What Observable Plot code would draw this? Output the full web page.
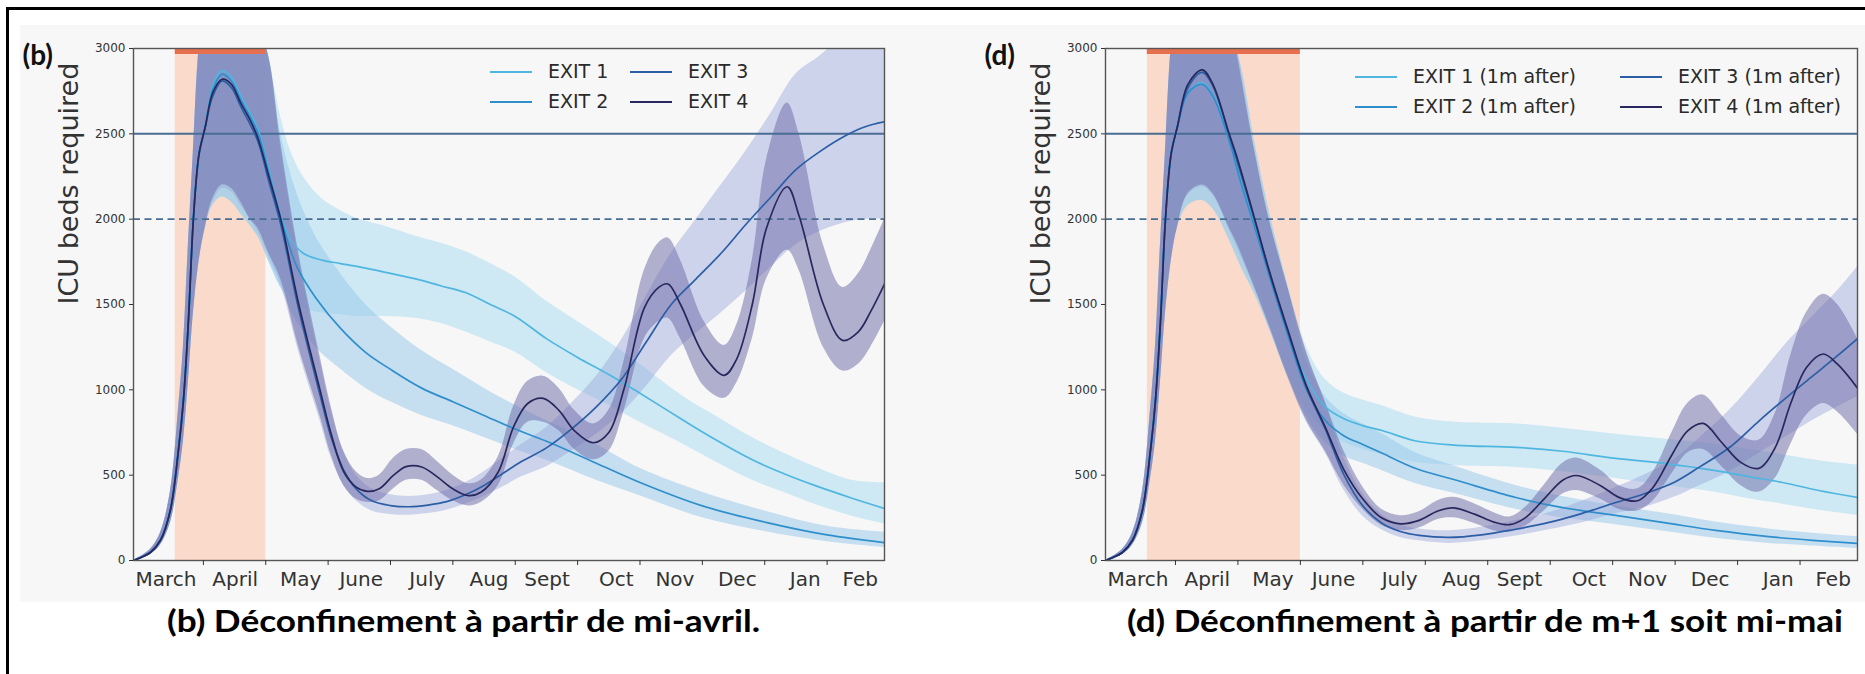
<!DOCTYPE html>
<html><head><meta charset="utf-8">
<script src="https://cdn.jsdelivr.net/npm/d3@7"></script>
<script src="https://cdn.jsdelivr.net/npm/@observablehq/plot@0.6"></script>
<style>
body{margin:0;background:#fff;width:1865px;height:674px;overflow:hidden;font-family:"DejaVu Sans",sans-serif;}
#page{position:relative;width:1865px;height:674px;overflow:hidden;}
.border{position:absolute;left:6px;top:7px;width:1900px;height:700px;border-top:3px solid #000;border-left:3px solid #000;}
.bg{position:absolute;left:20px;top:25px;width:1845px;height:577px;background:#f7f7f7;}
.panel{position:absolute;top:25px;}
.caption{position:absolute;font-family:Lato,"Open Sans",sans-serif;font-weight:bold;font-size:31px;line-height:31px;color:#000;white-space:nowrap;transform-origin:0 0;}
.lg{position:absolute;font-size:19px;line-height:19px;color:#2a2a2a;white-space:nowrap;}
.sw{position:absolute;height:2px;}
</style>
</head><body>
<div id="page">
  <div class="bg"></div>
  <div class="border"></div>
</div>
<script>
// ---------- data (x in months since 1 March, y in ICU beds) ----------
const months = ["March","April","May","June","July","Aug","Sept","Oct","Nov","Dec","Jan","Feb"];
const monthLabelAt = [0.40,1.51,2.56,3.53,4.59,5.58,6.51,7.62,8.56,9.56,10.65,11.53];
const monthStarts = [1,2,3,4,5,6,7,8,9,10,11];
const yTicks = [0,500,1000,1500,2000,2500,3000];
const xDomain = [-0.12, 11.92];
const capacity = 2500;
const surge = 2000;
const exits = ["EXIT 1","EXIT 2","EXIT 3","EXIT 4"];
const lockB = [{start:0.55, end:2.0}];
const lockD = [{start:0.55, end:3.0}];
const captionB = "(b) Déconfinement à partir de mi-avril.";
const captionD = "(d) Déconfinement à partir de m+1 soit mi-mai";

// rows: [month, mean, lower, upper]
const rise = [
  [-0.12,0,0,0],[0,18,12,25],[0.15,47,35,65],[0.31,117,90,160],[0.47,293,220,400],
  [0.6,645,480,880],[0.68,937,700,1250],[0.76,1400,1050,1850],[0.84,2000,1450,2400],
  [0.93,2380,1750,3000],[1.03,2540,1950,3300]
];

const b1 = [
  [1.15,2780,2080,3350],[1.3,2870,2130,3400],[1.45,2830,2100,3400],[1.6,2720,2030,3350],
  [1.87,2530,1900,3200],[2.05,2290,1750,2950],[2.24,2020,1600,2600],[2.4,1880,1550,2400],
  [2.6,1800,1480,2250],[2.9,1760,1450,2120],[3.2,1740,1440,2050],[3.5,1720,1430,2000],
  [3.9,1690,1430,1960],[4.4,1650,1420,1900],[4.8,1610,1390,1860],[5.2,1570,1340,1810],
  [5.6,1500,1280,1740],[6.0,1430,1220,1660],[6.5,1300,1100,1520],[7.0,1190,1000,1400],
  [7.5,1090,910,1280],[8.0,980,810,1150],[8.7,820,680,960],[9.2,710,580,850],
  [9.8,590,470,720],[10.3,510,400,630],[10.8,440,330,550],[11.4,365,260,470],[11.92,305,215,455]
];
const b2 = [
  [1.15,2760,2080,3350],[1.3,2850,2130,3400],[1.45,2810,2100,3400],[1.6,2700,2030,3350],
  [1.87,2510,1900,3150],[2.05,2270,1750,2950],[2.24,2010,1600,2500],[2.5,1720,1400,2150],
  [2.8,1540,1250,1900],[3.2,1360,1120,1680],[3.6,1220,1010,1500],[4.0,1120,930,1370],
  [4.5,1010,850,1230],[5.0,930,790,1120],[5.5,850,720,1010],[6.0,770,650,910],
  [6.56,690,580,810],[7.3,570,470,680],[8.0,457,380,540],[9.0,320,250,400],
  [10.0,225,170,290],[11.0,150,110,200],[11.92,105,76,165]
];
const b3 = [
  [1.15,2720,2100,3400],[1.3,2810,2180,3450],[1.45,2770,2160,3450],[1.6,2660,2080,3400],
  [1.87,2460,1930,3150],[2.05,2220,1780,2950],[2.24,1970,1620,2420],[2.53,1470,1220,1770],
  [2.87,970,820,1170],[3.05,720,600,880],[3.25,530,440,640],[3.45,420,350,500],
  [3.7,350,290,420],[4.0,322,270,385],[4.3,315,265,375],[4.6,325,275,385],[4.9,345,295,410],
  [5.2,385,330,455],[5.5,440,375,520],[5.8,510,430,600],[6.1,580,490,680],[6.5,660,550,780],
  [6.9,770,640,920],[7.3,900,740,1080],[7.7,1060,860,1290],[8.1,1280,1020,1550],
  [8.5,1500,1200,1800],[8.9,1650,1330,2000],[9.3,1800,1450,2200],[9.7,1970,1580,2400],
  [10.1,2130,1720,2620],[10.5,2290,1850,2850],[10.9,2400,1930,2960],[11.3,2490,1980,3100],
  [11.6,2540,2000,3250],[11.92,2570,2000,3350]
];
const b4 = [
  [1.15,2740,2120,3400],[1.3,2820,2200,3450],[1.45,2790,2180,3450],[1.6,2680,2100,3400],
  [1.75,2580,2000,3300],[1.87,2480,1950,3150],[2.05,2250,1800,2950],[2.24,2000,1650,2450],
  [2.53,1500,1250,1800],[2.87,1000,850,1200],[3.05,740,620,900],[3.25,520,440,640],
  [3.45,430,360,520],[3.63,405,340,480],[3.82,420,350,500],[4.05,500,420,600],
  [4.25,550,470,650],[4.5,548,470,650],[4.75,490,410,580],[5.0,420,350,500],
  [5.25,380,320,450],[5.45,400,340,470],[5.73,520,440,610],[5.97,780,680,900],
  [6.2,920,810,1050],[6.45,950,810,1080],[6.7,880,760,1010],[6.95,760,650,880],
  [7.25,690,590,800],[7.5,750,640,880],[7.74,1000,870,1160],[8.07,1480,1300,1700],
  [8.3,1600,1400,1860],[8.45,1620,1420,1890],[8.65,1500,1300,1760],[9.03,1200,1020,1400],
  [9.35,1085,950,1260],[9.55,1180,1040,1380],[9.8,1500,1300,1760],[10.03,1950,1650,2350],
  [10.36,2190,1820,2680],[10.55,2020,1700,2500],[10.94,1500,1250,1850],[11.25,1290,1110,1600],
  [11.5,1340,1150,1680],[11.7,1460,1250,1820],[11.92,1620,1400,2000]
];

const d1 = [
  [1.2,2740,2080,3350],[1.43,2800,2110,3400],[1.6,2730,2060,3380],[1.86,2470,1880,3150],
  [2.05,2220,1720,2900],[2.27,1960,1560,2450],[2.5,1680,1360,2050],[2.8,1330,1080,1620],
  [3.1,1060,880,1250],[3.4,900,760,1060],[3.7,830,690,980],[4.0,790,650,940],
  [4.32,760,620,905],[4.85,700,575,840],[5.5,675,555,810],[6.45,663,545,800],
  [7.2,640,520,775],[8.05,598,480,740],[8.85,568,440,710],[9.65,527,400,680],
  [10.2,490,360,650],[10.72,457,330,620],[11.3,410,295,585],[11.92,369,265,560]
];
const d2 = [
  [1.2,2740,2080,3350],[1.43,2790,2110,3400],[1.6,2720,2060,3380],[1.86,2460,1880,3150],
  [2.05,2210,1720,2900],[2.27,1950,1560,2450],[2.5,1670,1360,2050],[2.8,1320,1080,1600],
  [3.1,1000,840,1170],[3.4,820,690,960],[3.7,730,610,860],[4.0,680,570,800],
  [4.32,627,525,740],[4.85,539,450,630],[5.5,470,390,550],[6.45,369,300,440],
  [7.2,310,250,375],[8.05,264,210,320],[8.85,220,170,275],[9.65,176,130,225],
  [10.5,140,100,185],[11.2,118,85,160],[11.92,100,70,140]
];
const d3v = [
  [1.2,2770,2140,3400],[1.43,2860,2190,3450],[1.6,2780,2140,3420],[1.86,2490,1940,3200],
  [2.27,1990,1590,2400],[2.5,1690,1370,2000],[2.8,1340,1070,1600],[3.1,1010,810,1210],
  [3.4,770,630,920],[3.7,500,410,600],[4.0,320,260,390],[4.3,220,180,270],
  [4.6,170,135,210],[4.9,147,115,185],[5.38,135,100,175],[5.9,150,115,195],
  [6.4,180,140,230],[6.98,223,180,280],[7.5,275,220,345],[8.0,334,270,420],
  [8.5,390,310,500],[8.98,457,370,590],[9.4,550,440,720],[9.87,662,520,880],
  [10.35,820,630,1080],[10.8,960,730,1280],[11.2,1080,820,1430],[11.6,1200,900,1580],
  [11.92,1300,960,1720]
];
const d4 = [
  [1.2,2790,2150,3400],[1.43,2875,2200,3450],[1.6,2790,2150,3420],[1.86,2500,1950,3200],
  [1.97,2380,1870,3000],[2.27,2000,1600,2400],[2.5,1700,1380,2000],[2.8,1350,1080,1600],
  [3.1,1020,820,1220],[3.4,780,640,930],[3.7,530,440,640],[4.0,360,300,430],
  [4.3,250,205,300],[4.6,215,175,262],[4.9,235,190,285],[5.2,290,240,350],
  [5.45,308,250,370],[5.8,270,215,330],[6.1,225,175,280],[6.35,210,165,255],
  [6.6,250,200,310],[6.9,360,290,440],[7.2,470,390,570],[7.42,498,410,600],
  [7.8,440,360,530],[8.1,370,300,440],[8.4,350,290,420],[8.65,430,350,520],
  [8.95,620,510,750],[9.2,760,630,920],[9.45,803,650,970],[9.75,690,550,850],
  [10.05,575,440,730],[10.34,540,400,705],[10.6,660,480,860],[10.85,920,680,1200],
  [11.1,1130,850,1450],[11.37,1210,920,1560],[11.6,1150,870,1500],[11.92,1010,740,1300]
];

// ---------- styles ----------
const lineColors = ["#4fb6e0","#2f8fcd","#2c5ea6","#29285e"];
const bandColors = ["#b3dff2","#93c8ea","#98a6da","#6c68a6"];
const bandOpacity = [0.6,0.5,0.45,0.5];

function panel({series, lock, width, marginLeft, marginRight, tag, tagDx}) {
  const data = series.flatMap((s, i) => rise.concat(s).map(([m, v, lo, hi]) => ({m, v, lo, hi, k: exits[i]})));
  const yMax = yTicks[yTicks.length - 1];
  return Plot.plot({
    width, height: 577, marginLeft, marginRight, marginTop: 23, marginBottom: 42,
    style: {background: "transparent", fontFamily: "'DejaVu Sans', sans-serif", color: "#333", overflow: "visible"},
    x: {domain: xDomain},
    y: {domain: [0, yMax]},
    marks: [
      Plot.rect(lock, {x1: "start", x2: "end", fill: "#fadacb"}),
      ...exits.map((k, i) => Plot.areaY(data, {filter: d => d.k === k, x: "m", y1: "lo", y2: "hi",
        fill: bandColors[i], fillOpacity: bandOpacity[i], curve: "catmull-rom", clip: true})),
      Plot.ruleY([capacity], {stroke: "#4a6d94", strokeWidth: 2}),
      Plot.ruleY([surge], {stroke: "#4a6d94", strokeWidth: 1.8, strokeDasharray: "7,4.5"}),
      ...exits.map((k, i) => Plot.lineY(data, {filter: d => d.k === k, x: "m", y: "v",
        stroke: lineColors[i], strokeWidth: 1.7, curve: "catmull-rom", clip: true})),
      Plot.ruleY(lock, {y: () => yMax, x1: "start", x2: "end", stroke: "#e66f50", strokeWidth: 11, clip: true}),
      Plot.frame({stroke: "#555", strokeWidth: 1.4}),
      Plot.axisY({ticks: yTicks, tickSize: 4, tickPadding: 4, fontSize: 12, label: null, tickFormat: d => String(d)}),
      Plot.axisX({ticks: monthStarts, tickSize: 5, tickFormat: () => "", label: null}),
      Plot.axisX({ticks: monthLabelAt, tickSize: 0, tickPadding: 11, fontSize: 20, label: null,
        tickFormat: d => months[monthLabelAt.indexOf(d)]}),
      Plot.text(["ICU beds required"], {frameAnchor: "left", rotate: -90, dx: -64, fontSize: 27, fill: "#333"}),
      Plot.text([tag], {frameAnchor: "top-left", textAnchor: "start", dx: tagDx, dy: -3, fontSize: 28,
        fontWeight: "bold", fontFamily: "Lato, 'Open Sans', sans-serif", fill: "#111"})
    ]
  });
}

const page = document.getElementById("page");
function place(node, left) { node.classList.add("panel"); node.style.left = left + "px"; page.appendChild(node); }

place(panel({series: [b1, b2, b3, b4], lock: lockB, width: 900, marginLeft: 113, marginRight: 36, tag: "(b)", tagDx: -111}), 20);
place(panel({series: [d1, d2, d3v, d4], lock: lockD, width: 920, marginLeft: 160, marginRight: 8, tag: "(d)", tagDx: -121}), 945);

// legends
function legend(items, suffix) {
  items.forEach(({x, y, i}) => {
    const sw = document.createElement("div");
    sw.className = "sw";
    sw.style.cssText = `left:${x}px;top:${y - 1}px;width:42px;background:${lineColors[i]}`;
    page.appendChild(sw);
    const t = document.createElement("div");
    t.className = "lg";
    t.style.cssText = `left:${x + 58}px;top:${y - 10}px`;
    t.textContent = exits[i] + suffix;
    page.appendChild(t);
  });
}
legend([{x:490,y:72,i:0},{x:490,y:102,i:1},{x:630,y:72,i:2},{x:630,y:102,i:3}], "");
legend([{x:1355,y:77,i:0},{x:1355,y:107,i:1},{x:1620,y:77,i:2},{x:1620,y:107,i:3}], " (1m after)");

// captions
function caption(text, left, top, targetWidth) {
  const c = document.createElement("div");
  c.className = "caption";
  c.style.left = left + "px"; c.style.top = top + "px";
  c.textContent = text;
  page.appendChild(c);
  const w = c.getBoundingClientRect().width;
  c.style.transform = `scaleX(${targetWidth / w})`;
}
caption(captionB, 167, 605, 593);
caption(captionD, 1127, 605, 716);
</script>
</body></html>
